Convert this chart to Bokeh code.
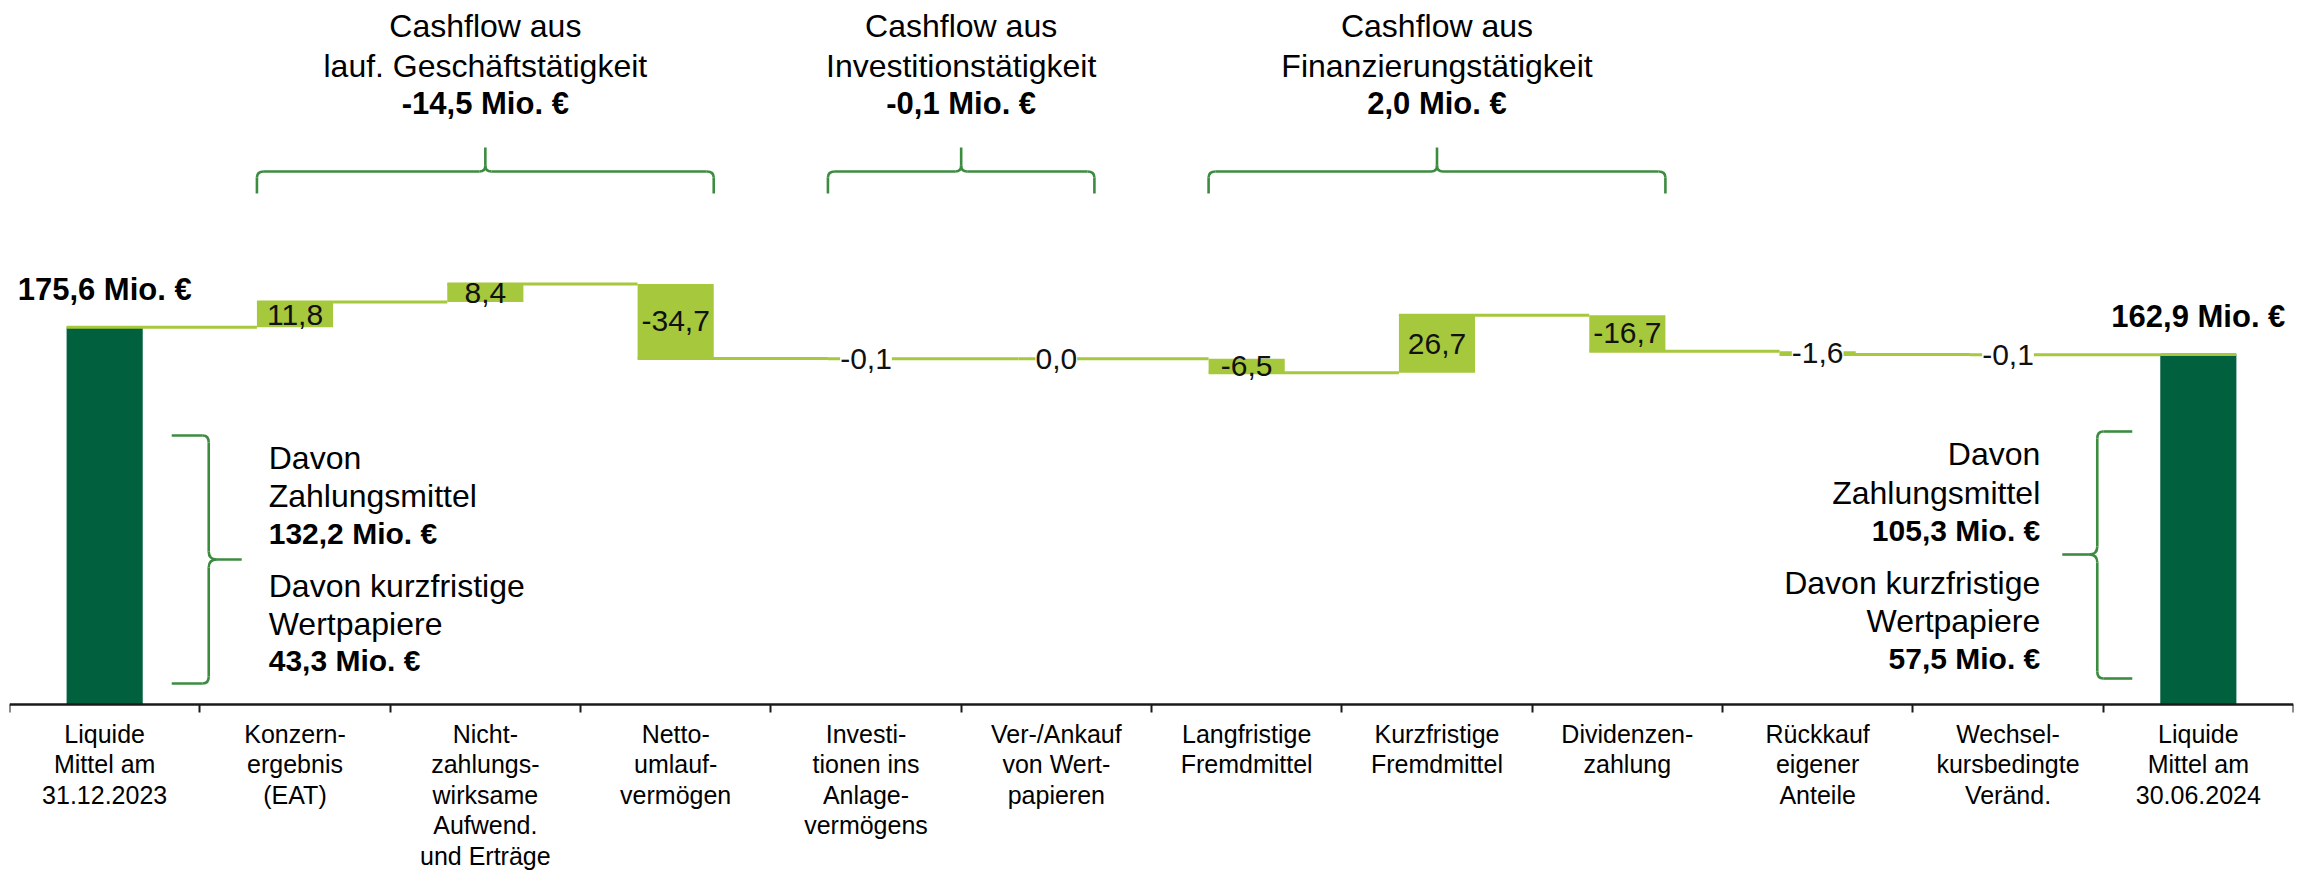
from bokeh.plotting import figure
from bokeh.models import Range1d, LinearAxis, FixedTicker, ColumnDataSource, LabelSet
from bokeh.core.properties import value
from bokeh.embed import file_html
from bokeh.resources import INLINE

# ---------------- data ----------------
categories = [
    "Liquide\nMittel am\n31.12.2023",
    "Konzern-\nergebnis\n(EAT)",
    "Nicht-\nzahlungs-\nwirksame\nAufwend.\nund Erträge",
    "Netto-\numlauf-\nvermögen",
    "Investi-\ntionen ins\nAnlage-\nvermögens",
    "Ver-/Ankauf\nvon Wert-\npapieren",
    "Langfristige\nFremdmittel",
    "Kurzfristige\nFremdmittel",
    "Dividenzen-\nzahlung",
    "Rückkauf\neigener\nAnteile",
    "Wechsel-\nkursbedingte\nVeränd.",
    "Liquide\nMittel am\n30.06.2024",
]
values = [175.6, 11.8, 8.4, -34.7, -0.1, 0.0, -6.5, 26.7, -16.7, -1.6, -0.1, 162.9]
is_total = [True, False, False, False, False, False, False, False, False, False, False, True]
value_labels = ["175,6 Mio. €", "11,8", "8,4", "-34,7", "-0,1", "0,0", "-6,5",
                "26,7", "-16,7", "-1,6", "-0,1", "162,9 Mio. €"]

group_first = [1, 4, 6]
group_last = [3, 5, 8]
group_titles = [["Cashflow aus", "lauf. Geschäftstätigkeit"],
                ["Cashflow aus", "Investitionstätigkeit"],
                ["Cashflow aus", "Finanzierungstätigkeit"]]
group_totals = ["-14,5 Mio. €", "-0,1 Mio. €", "2,0 Mio. €"]

split_names = ["Davon\nZahlungsmittel", "Davon kurzfristige\nWertpapiere"]
start_split_values = ["132,2 Mio. €", "43,3 Mio. €"]
end_split_values = ["105,3 Mio. €", "57,5 Mio. €"]

# ---------------- layout / style ----------------
FONT = "Liberation Sans"
DARK = "#01613f"
LIGHT = "#a6c83c"
BRACE = "#3c8c40"

FRAME_W = 2284
AXIS_Y = 704                     # page row of the value axis (value 0)
FRAME_H = 871
PXU = 2.148                      # pixels per unit on the value axis
CAT_W = FRAME_W / 12.0
BAR_W = 0.4


def dx(px):
    return px / CAT_W


def dy(px):
    return px / PXU


def row(page_y):
    """page pixel row -> value-axis data position"""
    return (AXIS_Y - page_y) / PXU


n = len(values)
centers = [i + 0.5 for i in range(n)]
lefts = [c - BAR_W / 2 for c in centers]
rights = [c + BAR_W / 2 for c in centers]

bottoms, tops, ends = [], [], []
level = 0.0
for v, tot in zip(values, is_total):
    if tot:
        b, t = 0.0, v
        level = v
    else:
        b, t = min(level, level + v), max(level, level + v)
        level = level + v
    bottoms.append(b)
    tops.append(t)
    ends.append(level)

p = figure(frame_width=FRAME_W, frame_height=FRAME_H,
           x_range=Range1d(0, n), y_range=Range1d(row(FRAME_H), row(0)),
           x_axis_location=None, y_axis_location=None,
           toolbar_location=None, output_backend="svg",
           min_border_left=9, min_border_right=14, min_border_top=0,
           min_border_bottom=0, outline_line_color=None)
p.grid.visible = False

axis = LinearAxis(ticker=FixedTicker(ticks=[], minor_ticks=list(range(n + 1))),
                  fixed_location=0,
                  axis_line_color="#1a1a1a", axis_line_width=2.5,
                  minor_tick_in=0, minor_tick_out=8, minor_tick_line_width=2,
                  minor_tick_line_color="#1a1a1a", major_tick_in=0, major_tick_out=0,
                  major_label_standoff=0)
p.add_layout(axis, "below")

# bars
bar_src = ColumnDataSource(dict(x=centers, bottom=bottoms, top=tops,
                                color=[DARK if t else LIGHT for t in is_total]))
p.vbar(x="x", bottom="bottom", top="top", width=BAR_W, source=bar_src,
       fill_color="color", line_color=None)

# connectors (step line)
cx0, cx1, cy = [], [], []
for i in range(n):
    cx0.append(lefts[i])
    cx1.append(lefts[i + 1] if i < n - 1 else rights[i])
    cy.append(ends[i])
p.segment(x0=cx0, y0=cy, x1=cx1, y1=cy, line_color=LIGHT, line_width=3)

# value labels
big_idx = [i for i in range(n) if not is_total[i] and abs(values[i]) >= 5]
small_idx = [i for i in range(n) if not is_total[i] and abs(values[i]) < 5]
tot_idx = [i for i in range(n) if is_total[i]]

p.text(x=[centers[i] for i in big_idx],
       y=[(bottoms[i] + tops[i]) / 2 for i in big_idx],
       text=[value_labels[i] for i in big_idx],
       text_font=value(FONT), text_font_size="30px", text_color="#111111",
       text_align="center", text_baseline="middle")

small_src = ColumnDataSource(dict(x=[centers[i] for i in small_idx],
                                  y=[(bottoms[i] + tops[i]) / 2 for i in small_idx],
                                  text=[value_labels[i] for i in small_idx]))
p.add_layout(LabelSet(x="x", y="y", text="text", source=small_src,
                      text_font=value(FONT), text_font_size="30px", text_color="#111111",
                      text_align="center", text_baseline="middle",
                      background_fill_color="white"))

p.text(x=[centers[i] for i in tot_idx],
       y=[tops[i] + dy(38) for i in tot_idx],
       text=[value_labels[i] for i in tot_idx],
       text_font=value(FONT), text_font_size="31px", text_font_style="bold",
       text_color="black", text_align="center", text_baseline="middle")

# group headers
hx, hy, ht, bx, by, bt = [], [], [], [], [], []
for g in range(len(group_titles)):
    xm = (group_first[g] + group_last[g] + 1) / 2.0
    for j, line in enumerate(group_titles[g]):
        hx.append(xm)
        hy.append(row(25 + 40 * j))
        ht.append(line)
    bx.append(xm)
    by.append(row(103))
    bt.append(group_totals[g])
p.text(x=hx, y=hy, text=ht, text_font=value(FONT), text_font_size="32px",
       text_color="black", text_align="center", text_baseline="middle")
p.text(x=bx, y=by, text=bt, text_font=value(FONT), text_font_size="31px",
       text_font_style="bold", text_color="black", text_align="center",
       text_baseline="middle")

# braces
seg = dict(x0=[], y0=[], x1=[], y1=[])
quad = dict(x0=[], y0=[], x1=[], y1=[], cx=[], cy=[])


def add_seg(a, b, c, d):
    seg["x0"].append(a); seg["y0"].append(b); seg["x1"].append(c); seg["y1"].append(d)


def add_quad(a, b, c, d, e, f):
    quad["x0"].append(a); quad["y0"].append(b); quad["x1"].append(c)
    quad["y1"].append(d); quad["cx"].append(e); quad["cy"].append(f)


def hbrace(xl, xr, y_line, y_end, y_tip):
    xm = (xl + xr) / 2.0
    for s, xe in ((1, xl), (-1, xr)):
        add_seg(xe, y_end, xe, y_line - dy(6))
        add_quad(xe, y_line - dy(6), xe + s * dx(7), y_line, xe, y_line)
        add_seg(xe + s * dx(7), y_line, xm - s * dx(6), y_line)
        add_quad(xm - s * dx(6), y_line, xm, y_line + dy(6), xm, y_line)
    add_seg(xm, y_line + dy(6), xm, y_tip)


def vbrace(x_end, x_line, x_tip, y_top, y_bot, y_tip):
    sx = 1 if x_tip > x_line else -1
    for s, ye in ((1, y_top), (-1, y_bot)):
        add_seg(x_end, ye, x_line - sx * dx(6), ye)
        add_quad(x_line - sx * dx(6), ye, x_line, ye - s * dy(7), x_line, ye)
        add_seg(x_line, ye - s * dy(7), x_line, y_tip + s * dy(8))
        add_quad(x_line, y_tip + s * dy(8), x_line + sx * dx(8), y_tip, x_line, y_tip)
    add_seg(x_line + sx * dx(8), y_tip, x_tip, y_tip)


for g in range(len(group_first)):
    hbrace(lefts[group_first[g]], rights[group_last[g]], row(171), row(193), row(147))

vbrace(rights[0] + dx(29), rights[0] + dx(66), rights[0] + dx(99),
       row(435), row(683), row(559))
vbrace(lefts[-1] - dx(28), lefts[-1] - dx(63), lefts[-1] - dx(98),
       row(431), row(678), row(554))

p.segment(x0="x0", y0="y0", x1="x1", y1="y1", source=ColumnDataSource(seg),
          line_color=BRACE, line_width=2.6)
p.quadratic(x0="x0", y0="y0", x1="x1", y1="y1", cx="cx", cy="cy",
            source=ColumnDataSource(quad), line_color=BRACE, line_width=2.6)


# breakdown texts next to the total bars
def split_lines(names, vals):
    lines, bold = [], []
    for nm, vl in zip(names, vals):
        for ln in nm.split("\n"):
            lines.append(ln); bold.append(False)
        lines.append(vl); bold.append(True)
    return lines, bold


for vals, xpos, align, rows_ in (
        (start_split_values, rights[0] + dx(126), "left", [457, 495, 533, 585, 623, 660]),
        (end_split_values, lefts[-1] - dx(120), "right", [453, 492, 530, 582, 620, 658])):
    lines, bold = split_lines(split_names, vals)
    for style in (False, True):
        idx = [k for k in range(len(lines)) if bold[k] == style]
        p.text(x=[xpos] * len(idx), y=[row(rows_[k]) for k in idx],
               text=[lines[k] for k in idx], text_font=value(FONT),
               text_font_size="32px" if not style else "30px",
               text_font_style="bold" if style else "normal",
               text_color="black", text_align=align, text_baseline="middle")

# category labels below the axis
lx, ly, lt = [], [], []
for i, cat in enumerate(categories):
    for j, ln in enumerate(cat.split("\n")):
        lx.append(centers[i])
        ly.append(row(733 + 30.5 * j))
        lt.append(ln)
p.text(x=lx, y=ly, text=lt, text_font=value(FONT), text_font_size="25px",
       text_color="black", text_align="center", text_baseline="middle")

open("out.html", "w").write(file_html(p, INLINE))
